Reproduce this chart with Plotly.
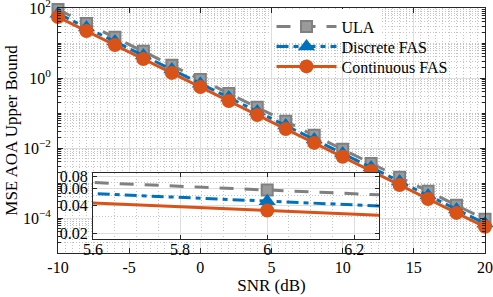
import plotly.graph_objects as go
import math

# ---- data ----
snr = [-10, -8, -6, -4, -2, 0, 2, 4, 6, 8, 10, 12, 14, 16, 18, 20]
ula = [90, 36, 14.5, 5.8, 2.3, 0.9, 0.36, 0.145, 0.058, 0.023, 0.0092, 0.0036,
       0.00145, 0.00058, 0.00023, 0.000092]
discrete_fas = [69, 27.5, 11, 4.4, 1.75, 0.69, 0.275, 0.11, 0.044, 0.0175, 0.007,
                0.00275, 0.0011, 0.00044, 0.000175, 0.00007]
continuous_fas = [55, 22, 8.8, 3.5, 1.4, 0.55, 0.22, 0.088, 0.035, 0.014, 0.0056,
                  0.0022, 0.00088, 0.00035, 0.00014, 0.000056]

x_ticks = [-10, -5, 0, 5, 10, 15, 20]
x_ticktext = ["-10", "-5", "0", "5", "10", "15", "20"]
y_ticks = [1e-4, 1e-2, 1, 100]
y_ticktext = ["10<sup>\u22124</sup>", "10<sup>\u22122</sup>", "10<sup>0</sup>", "10<sup>2</sup>"]
inset_x_ticks = [5.6, 5.8, 6.0, 6.2]
inset_x_text = ["5.6", "5.8", "6", "6.2"]
inset_y_ticks = [0.02, 0.04, 0.06, 0.08]
inset_y_text = ["0.02", "0.04", "0.06", "0.08"]

FONT = "Times New Roman"
GRAY = "#808080"
BLUE = "#0072BD"
ORANGE = "#D95319"
AXC = "#262626"
GRID = "#dedede"
MINOR = "#c4c4c4"

series = [
    ("ULA", ula, dict(color=GRAY, width=3, dash="14px,11px"),
     dict(symbol="square", size=11, color="#9a9a9a", line=dict(color=GRAY, width=2)),
     "legend"),
    ("Discrete FAS", discrete_fas, dict(color=BLUE, width=3, dash="12px,5px,5px,5px"),
     dict(symbol="triangle-up", size=15, color=BLUE, line=dict(width=0)),
     "legend2"),
    ("Continuous FAS", continuous_fas, dict(color=ORANGE, width=3),
     dict(symbol="circle", size=14, color=ORANGE, line=dict(width=0)),
     "legend3"),
]

fig = go.Figure()
for name, vals, line, marker, leg in series:
    fig.add_trace(go.Scatter(x=snr, y=vals, name=name, mode="lines+markers",
                             line=line, marker=marker, cliponaxis=False,
                             legend=leg, xaxis="x", yaxis="y"))
for name, vals, line, marker, leg in series:
    fig.add_trace(go.Scatter(x=snr, y=vals, name=name, mode="lines+markers",
                             line=line, marker=marker, showlegend=False,
                             xaxis="x2", yaxis="y2"))

# invisible spacer entries: they only make the white legend box big enough
for _ in range(2):
    fig.add_trace(go.Scatter(x=[], y=[], mode="lines", legend="legend",
                             name='<span style="color:rgba(0,0,0,0)">Continuous FAS.</span>',
                             line=dict(color="rgba(0,0,0,0)", width=0),
                             hoverinfo="skip", xaxis="x", yaxis="y"))

y_minor = [k * 10 ** e for e in range(-5, 2) for k in range(1, 10)]


def legend_box(ytop, bg):
    return dict(x=0.5, y=ytop, xanchor="left", yanchor="top",
                bgcolor=bg, borderwidth=0, font=dict(size=16),
                tracegroupgap=0, itemwidth=60, traceorder="normal")


fig.update_layout(
    width=493, height=297, autosize=False,
    margin=dict(l=58, r=8, t=8, b=44, autoexpand=False),
    paper_bgcolor="white", plot_bgcolor="white",
    font=dict(family=FONT, size=16, color="black"),
    xaxis=dict(domain=[0, 1], range=[-10, 20], tickvals=x_ticks, ticktext=x_ticktext,
               automargin=False, ticklabeloverflow="allow",
               ticks="inside", ticklen=5, tickcolor=AXC, mirror="allticks",
               showline=True, linecolor=AXC, linewidth=1, zeroline=False,
               showgrid=True, gridcolor=GRID, gridwidth=1,
               minor=dict(dtick=0.5, showgrid=True, gridcolor=MINOR,
                          griddash="1px,2px", ticks=""),
               tickfont=dict(size=16), ticklabelstandoff=0,
               title=dict(text="SNR (dB)", font=dict(size=17), standoff=3)),
    yaxis=dict(domain=[0, 1], type="log", range=[-5, 2], tickvals=y_ticks,
               automargin=False, ticklabeloverflow="allow",
               ticktext=y_ticktext, ticks="inside", ticklen=5, tickcolor=AXC,
               mirror="allticks", showline=True, linecolor=AXC, linewidth=1,
               zeroline=False, showgrid=True, gridcolor=GRID, gridwidth=1,
               minor=dict(tickvals=y_minor, showgrid=True, gridcolor=MINOR,
                          griddash="1px,2px", ticks="inside", ticklen=3,
                          tickcolor=AXC),
               tickfont=dict(size=16), ticklabelstandoff=3,
               title=dict(text="MSE AOA Upper Bound", font=dict(size=17), standoff=0)),
    xaxis2=dict(domain=[0.082, 0.752], anchor="y2", range=[5.6, 6.257],
                automargin=False, ticklabeloverflow="allow",
                tickvals=inset_x_ticks, ticktext=inset_x_text,
                ticks="inside", ticklen=4, tickcolor=AXC, mirror="allticks",
                showline=True, linecolor=AXC, linewidth=1, zeroline=False,
                showgrid=True, gridcolor=GRID,
                minor=dict(dtick=0.05, showgrid=True, gridcolor=MINOR,
                           griddash="1px,2px", ticks=""),
                tickfont=dict(size=16), ticklabelstandoff=-4),
    yaxis2=dict(domain=[0.057, 0.3265], anchor="x2", type="log",
                automargin=False, ticklabeloverflow="allow",
                range=[math.log10(0.0174), math.log10(0.0877)],
                tickvals=inset_y_ticks, ticktext=inset_y_text,
                ticks="inside", ticklen=4, tickcolor=AXC, mirror="allticks",
                showline=True, linecolor=AXC, linewidth=1, zeroline=False,
                showgrid=True, gridcolor=GRID,
                minor=dict(tickvals=[0.03, 0.05, 0.07], showgrid=True,
                           gridcolor=MINOR, griddash="1px,2px", ticks=""),
                tickfont=dict(size=16), ticklabelstandoff=1),
    legend=legend_box(0.9939, "white"),
    legend2=legend_box(0.9122, "rgba(0,0,0,0)"),
    legend3=legend_box(0.8306, "rgba(0,0,0,0)"),
    showlegend=True,
)

fig.write_html("out.html", config={"displayModeBar": False},
               post_script="document.body.style.margin='0px';")
